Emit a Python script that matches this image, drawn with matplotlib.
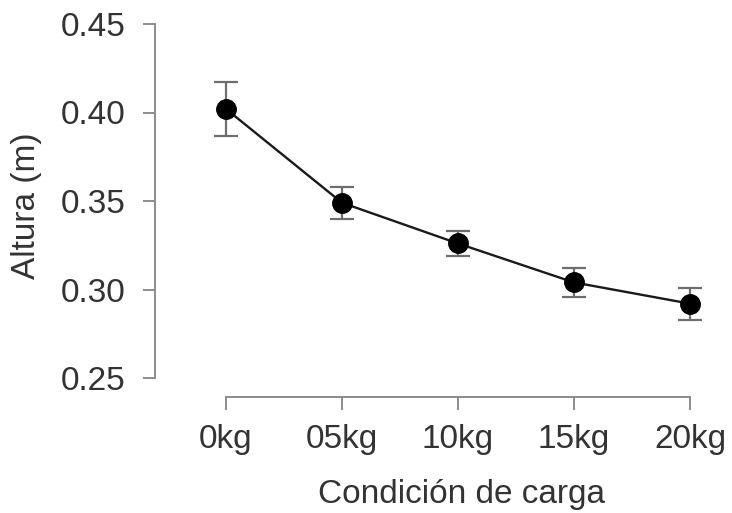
import matplotlib
matplotlib.use("Agg")
import matplotlib.pyplot as plt

categories = ["0kg", "05kg", "10kg", "15kg", "20kg"]
means = [0.402, 0.349, 0.326, 0.304, 0.292]
lower = [0.387, 0.340, 0.319, 0.296, 0.283]
upper = [0.417, 0.358, 0.333, 0.312, 0.301]
yticks = [0.25, 0.30, 0.35, 0.40, 0.45]

plt.rcParams['font.family'] = ['Liberation Sans', 'DejaVu Sans']

W, H = 732, 513
fig = plt.figure(figsize=(W / 100, H / 100), dpi=100)
ax_l, ax_r, ax_t, ax_b = 170, 720, 24, 378
aw, ah = ax_r - ax_l, ax_b - ax_t
ax = fig.add_axes([ax_l / W, 1 - ax_b / H, aw / W, ah / H])

x = list(range(len(categories)))
yerr = [[m - lo for m, lo in zip(means, lower)], [hi - m for m, hi in zip(means, upper)]]
ax.errorbar(x, means, yerr=yerr, fmt='none', ecolor='#6e6e6e', elinewidth=1.6,
            capsize=8.6, capthick=1.6, zorder=2)
ax.plot(x, means, color='#1a1a1a', lw=1.7, zorder=3)
ax.plot(x, means, 'o', color='black', ms=14, zorder=4)

ax.set_ylim(0.25, 0.45)
ax.set_xlim(-(226 - ax_l) / 116, 4 + (ax_r - 690) / 116)
ax.set_yticks(yticks)
ax.set_yticklabels([f"{v:.2f}" for v in yticks])
ax.set_xticks(x)
ax.set_xticklabels(categories)

for s in ['top', 'right']:
    ax.spines[s].set_visible(False)
ax.spines['left'].set_position(('outward', 10.8))
ax.spines['bottom'].set_position(('outward', 13.7))
ax.spines['left'].set_bounds(0.25, 0.45)
ax.spines['bottom'].set_bounds(0, 4)
for s in ['left', 'bottom']:
    ax.spines[s].set_color('#8c8c8c')
    ax.spines[s].set_linewidth(1.4)
ax.tick_params(axis='both', colors='#8c8c8c', width=1.4, length=9, labelsize=24,
               labelcolor='#333333')
ax.tick_params(axis='y', pad=12)
ax.tick_params(axis='x', pad=10.5)

ax.set_ylabel("Altura (m)", fontsize=24, color='#333333')
ax.yaxis.set_label_coords((27 - ax_l) / aw, (ax_b - 206) / ah)
ax.yaxis.label.set_va('center')
ax.set_xlabel("Condición de carga", fontsize=24, color='#333333')
ax.xaxis.set_label_coords((462 - ax_l) / aw, -(503 - ax_b) / ah)
ax.xaxis.label.set_va('baseline')

fig.savefig("out.png", dpi=100)
